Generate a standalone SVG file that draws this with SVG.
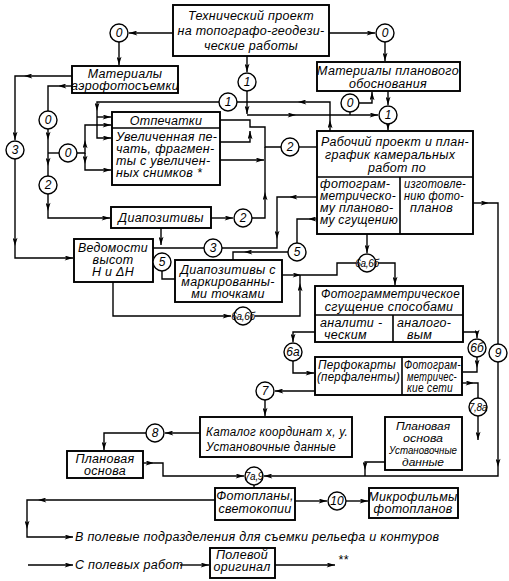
<svg xmlns="http://www.w3.org/2000/svg" width="509" height="581" viewBox="0 0 509 581">
<defs>
<marker id="ar" viewBox="0 0 10 6" refX="10" refY="3" markerWidth="10" markerHeight="5" markerUnits="userSpaceOnUse" orient="auto">
<path d="M0,0 L10,3 L0,6 L2.5,3 z" fill="#000"/>
</marker>
<style>
.b{fill:#fff;stroke:#000;stroke-width:1.9}
.c{fill:#fff;stroke:#000;stroke-width:1.4}
.l{fill:none;stroke:#000;stroke-width:1.4}
.a{marker-end:url(#ar)}
text{font-family:"Liberation Sans",Arial,sans-serif;font-style:italic;font-size:12.5px;fill:#000;letter-spacing:0.3px}
.m{text-anchor:middle}
.n{font-size:12px;letter-spacing:0}
.s{font-size:10px;letter-spacing:-0.3px}
.t{font-size:11.5px;letter-spacing:0}
</style>
</defs>
<rect width="509" height="581" fill="#fff"/>
<g id="connectors">
<path class="l a" d="M173,33 H129"/>
<path class="l a" d="M119,42 V65"/>
<path class="l a" d="M329,33 H375"/>
<path class="l a" d="M385,42 V61"/>
<path class="l a" d="M247,56 V72"/>
<path class="l a" d="M247,91 V114"/>
<path class="l a" d="M247,115 H296"/>
<path class="l a" d="M296,115 H378"/>
<path class="l" d="M350,112 V115"/>
<path class="l a" d="M359,103 H372 V92"/>
<path class="l a" d="M388,91 V105"/>
<path class="l a" d="M388,124 V130"/>
<path class="l a" d="M330,131 V120"/>
<path class="l a" d="M330,120 V102 H298"/>
<path class="l" d="M298,102 H237"/>
<path class="l a" d="M219,102 H97 V111"/>
<path class="l a" d="M97,111 V138 H111"/>
<path class="l a" d="M97,117 H111"/>
<path class="l" d="M48,153 H59"/>
<path class="l a" d="M77,153 H85 V140"/>
<path class="l a" d="M85,140 V125 H111"/>
<path class="l a" d="M85,153 V164"/>
<path class="l a" d="M85,164 V170 H111"/>
<path class="l a" d="M72,76 H24"/>
<path class="l a" d="M24,76 H15 V140"/>
<path class="l a" d="M15,159 V246"/>
<path class="l a" d="M15,246 V258 H73"/>
<path class="l a" d="M72,86 H58"/>
<path class="l" d="M58,86 H48 V111"/>
<path class="l a" d="M48,129 V140"/>
<path class="l a" d="M48,140 V166"/>
<path class="l" d="M48,166 V176"/>
<path class="l a" d="M48,194 V211"/>
<path class="l a" d="M48,211 V218 H110"/>
<path class="l" d="M220,120 H250 V127 H265 V147 H281"/>
<path class="l a" d="M220,142 H250 V131"/>
<path class="l a" d="M220,160 H264"/>
<path class="l" d="M299,147 H317"/>
<path class="l a" d="M211,218 H233"/>
<path class="l a" d="M252,218 H265 V192"/>
<path class="l" d="M265,192 V147"/>
<path class="l a" d="M161,228 V245"/>
<path class="l" d="M162,271 V279 H175"/>
<path class="l a" d="M317,197 H289"/>
<path class="l a" d="M289,197 H277 V239"/>
<path class="l" d="M277,239 V248 H222"/>
<path class="l" d="M204,248 H153"/>
<path class="l a" d="M317,219 H308"/>
<path class="l" d="M308,219 H297 V243"/>
<path class="l a" d="M288,252 H244"/>
<path class="l" d="M244,252 H233 V260"/>
<path class="l a" d="M367,234 V253"/>
<path class="l a" d="M282,275 H301"/>
<path class="l" d="M301,275 H337 V263 H356"/>
<path class="l a" d="M378,263 H395 V285"/>
<path class="l a" d="M113,282 V316 H231"/>
<path class="l a" d="M255,316 H300 V283"/>
<path class="l" d="M300,283 V275"/>
<path class="l a" d="M315,332 H293 V342"/>
<path class="l a" d="M293,361 V373 H314"/>
<path class="l a" d="M463,332 H477 V338"/>
<path class="l a" d="M477,357 V368"/>
<path class="l" d="M477,368 V372 H463"/>
<path class="l a" d="M462,383 H474"/>
<path class="l" d="M474,383 H478 V398"/>
<path class="l a" d="M478,416 V440"/>
<path class="l a" d="M385,462 H365 V470"/>
<path class="l" d="M365,470 V476"/>
<path class="l a" d="M473,203 H489"/>
<path class="l" d="M489,203 H498 V344"/>
<path class="l a" d="M498,362 V467"/>
<path class="l a" d="M498,467 V476 H264"/>
<path class="l a" d="M143,463 H154"/>
<path class="l a" d="M154,463 H163 V476 H244"/>
<path class="l" d="M254,485 V488"/>
<path class="l a" d="M315,391 H275"/>
<path class="l a" d="M265,400 V416"/>
<path class="l a" d="M200,433 H165"/>
<path class="l a" d="M146,433 H104 V450"/>
<path class="l a" d="M215,500 H38"/>
<path class="l a" d="M38,500 H27 V529"/>
<path class="l a" d="M27,529 V537 H73"/>
<path class="l a" d="M295,501 H327"/>
<path class="l a" d="M346,501 H368"/>
<path class="l a" d="M28,565 H73"/>
<path class="l a" d="M180,565 H209"/>
<path class="l a" d="M275,565 H335"/>
</g>
<g id="n-tech"><rect class="b" x="173" y="5" width="156" height="51"/>
<text class="m" x="251" y="20">Технический проект</text>
<text class="m" x="251" y="35">на топографо-геодези-</text>
<text class="m" x="251" y="50">ческие работы</text></g>
<g id="n-aero"><rect class="b" x="72" y="66" width="106" height="27"/>
<text class="m" x="125" y="78">Материалы</text>
<text class="m" x="125" y="90">аэрофотосъемки</text></g>
<g id="n-plan"><rect class="b" x="317" y="62" width="143" height="29"/>
<text class="m" x="388" y="75">Материалы планового</text>
<text class="m" x="388" y="88">обоснования</text></g>
<g id="n-otp"><rect class="b" x="112" y="112" width="108" height="73"/>
<path class="l" d="M112,128 H220" style="stroke-width:1.6"/>
<text class="m" x="166" y="125">Отпечатки</text>
<text x="116" y="141">Увеличенная пе-</text>
<text x="116" y="153">чать, фрагмен-</text>
<text x="116" y="165">ты с увеличен-</text>
<text x="116" y="177">ных снимков *</text></g>
<g id="n-rab"><rect class="b" x="317" y="131" width="156" height="103"/>
<path class="l" d="M317,177 H473 M400,177 V234" style="stroke-width:1.6"/>
<text x="321" y="146" textLength="148" lengthAdjust="spacingAndGlyphs">Рабочий проект и план-</text>
<text x="325" y="159">график камеральных</text>
<text x="368" y="172">работ по</text>
<text x="320" y="188">фотограм-</text>
<text x="320" y="200" textLength="76" lengthAdjust="spacingAndGlyphs">метрическо-</text>
<text x="320" y="212">му планово-</text>
<text x="320" y="224" textLength="78" lengthAdjust="spacingAndGlyphs">му сгущению</text>
<text x="404" y="188" textLength="62" lengthAdjust="spacingAndGlyphs">изготовле-</text>
<text x="404" y="200" textLength="60" lengthAdjust="spacingAndGlyphs">нию фото-</text>
<text x="410" y="212">планов</text></g>
<g id="n-diap"><rect class="b" x="111" y="207" width="100" height="21"/>
<text class="m" x="161" y="222">Диапозитивы</text></g>
<g id="n-ved"><rect class="b" x="74" y="239" width="79" height="43"/>
<text class="m" x="113" y="252" textLength="70" lengthAdjust="spacingAndGlyphs">Ведомости</text>
<text class="m" x="113" y="264">высот</text>
<text class="m" x="113" y="276">H и ΔH</text></g>
<g id="n-diapm"><rect class="b" x="175" y="260" width="107" height="42"/>
<text class="m" x="228" y="274">Диапозитивы с</text>
<text class="m" x="228" y="286">маркированны-</text>
<text class="m" x="228" y="298">ми точками</text></g>
<g id="n-fsg"><rect class="b" x="315" y="286" width="148" height="56"/>
<path class="l" d="M315,315 H463 M393,315 V342" style="stroke-width:1.6"/>
<text x="321" y="298" textLength="139" lengthAdjust="spacingAndGlyphs">Фотограмметрическое</text>
<text class="m" x="389" y="311">сгущение способами</text>
<text x="320" y="327">аналити -</text>
<text x="324" y="339">ческим</text>
<text x="397" y="327">аналого-</text>
<text x="407" y="339">вым</text></g>
<g id="n-perf"><rect class="b" x="315" y="357" width="147" height="38"/>
<path class="l" d="M402,357 V395" style="stroke-width:1.6"/>
<text x="318" y="369" textLength="78" lengthAdjust="spacingAndGlyphs">Перфокарты</text>
<text x="317" y="381" textLength="83" lengthAdjust="spacingAndGlyphs">(перфаленты)</text>
<text x="404" y="369" textLength="57" lengthAdjust="spacingAndGlyphs">Фотограм-</text>
<text x="407" y="381" textLength="50" lengthAdjust="spacingAndGlyphs">метричес-</text>
<text x="407" y="392" textLength="46" lengthAdjust="spacingAndGlyphs">кие сети</text></g>
<g id="n-cat"><rect class="b" x="200" y="417" width="152" height="40"/>
<text x="206" y="436" textLength="142" lengthAdjust="spacingAndGlyphs">Каталог координат x, y.</text>
<text x="206" y="451" textLength="130" lengthAdjust="spacingAndGlyphs">Установочные данные</text></g>
<g id="n-plano2"><rect class="b" x="385" y="417" width="77" height="53"/>
<text class="m t" x="423" y="430" textLength="54" lengthAdjust="spacingAndGlyphs">Плановая</text>
<text class="m t" x="423" y="442" textLength="40" lengthAdjust="spacingAndGlyphs">основа</text>
<text class="m t" x="423" y="454" textLength="68" lengthAdjust="spacingAndGlyphs">Установочные</text>
<text class="m t" x="423" y="466" textLength="42" lengthAdjust="spacingAndGlyphs">данные</text></g>
<g id="n-plano1"><rect class="b" x="67" y="451" width="76" height="27"/>
<text class="m" x="105" y="463">Плановая</text>
<text class="m" x="105" y="475">основа</text></g>
<g id="n-foto"><rect class="b" x="215" y="488" width="80" height="32"/>
<text class="m" x="255" y="500">Фотопланы,</text>
<text class="m" x="255" y="513">светокопии</text></g>
<g id="n-micro"><rect class="b" x="369" y="488" width="89" height="30"/>
<text class="m" x="413" y="501">Микрофильмы</text>
<text class="m" x="413" y="513">фотопланов</text></g>
<g id="n-pole"><rect class="b" x="210" y="548" width="65" height="30"/>
<text class="m" x="242" y="559">Полевой</text>
<text class="m" x="242" y="571">оригинал</text></g>
<g id="circles">
<g id="c-0a"><circle class="c" cx="119" cy="33" r="9"/><text class="m n" x="119" y="37">0</text></g>
<g id="c-0b"><circle class="c" cx="385" cy="33" r="9"/><text class="m n" x="385" y="37">0</text></g>
<g id="c-1a"><circle class="c" cx="247" cy="82" r="9"/><text class="m n" x="247" y="86">1</text></g>
<g id="c-1b"><circle class="c" cx="228" cy="102" r="9"/><text class="m n" x="228" y="106">1</text></g>
<g id="c-0c"><circle class="c" cx="350" cy="103" r="9"/><text class="m n" x="350" y="107">0</text></g>
<g id="c-1c"><circle class="c" cx="388" cy="115" r="9"/><text class="m n" x="388" y="119">1</text></g>
<g id="c-0e"><circle class="c" cx="48" cy="120" r="9"/><text class="m n" x="48" y="124">0</text></g>
<g id="c-3a"><circle class="c" cx="15" cy="150" r="9"/><text class="m n" x="15" y="154">3</text></g>
<g id="c-0d"><circle class="c" cx="68" cy="153" r="9"/><text class="m n" x="68" y="157">0</text></g>
<g id="c-2c"><circle class="c" cx="48" cy="185" r="9"/><text class="m n" x="48" y="189">2</text></g>
<g id="c-2a"><circle class="c" cx="290" cy="147" r="9"/><text class="m n" x="290" y="151">2</text></g>
<g id="c-2b"><circle class="c" cx="243" cy="218" r="9"/><text class="m n" x="243" y="222">2</text></g>
<g id="c-3b"><circle class="c" cx="213" cy="248" r="9"/><text class="m n" x="213" y="252">3</text></g>
<g id="c-5a"><circle class="c" cx="162" cy="262" r="9"/><text class="m n" x="162" y="266">5</text></g>
<g id="c-5b"><circle class="c" cx="297" cy="252" r="9"/><text class="m n" x="297" y="256">5</text></g>
<g id="c-6ab1"><circle class="c" cx="367" cy="263" r="9"/><text class="m s" x="367" y="267">6а,6б</text></g>
<g id="c-6ab2"><circle class="c" cx="243" cy="316" r="9"/><text class="m s" x="243" y="320">6а,6б</text></g>
<g id="c-6a"><circle class="c" cx="293" cy="352" r="9"/><text class="m n" x="293" y="356">6а</text></g>
<g id="c-6b"><circle class="c" cx="477" cy="348" r="9"/><text class="m n" x="477" y="352">6б</text></g>
<g id="c-9"><circle class="c" cx="498" cy="353" r="9"/><text class="m n" x="498" y="357">9</text></g>
<g id="c-7"><circle class="c" cx="265" cy="391" r="9"/><text class="m n" x="265" y="395">7</text></g>
<g id="c-78a"><circle class="c" cx="478" cy="407" r="9"/><text class="m s" x="478" y="411">7,8а</text></g>
<g id="c-8"><circle class="c" cx="155" cy="433" r="9"/><text class="m n" x="155" y="437">8</text></g>
<g id="c-7a9"><circle class="c" cx="254" cy="476" r="9"/><text class="m s" x="254" y="480">7а,9</text></g>
<g id="c-10"><circle class="c" cx="337" cy="501" r="9"/><text class="m n" x="337" y="505">10</text></g>
</g>
<g id="labels">
<text x="75" y="541">В полевые подразделения для съемки рельефа и контуров</text>
<text x="75" y="569">С полевых работ</text>
<text x="338" y="564">**</text>
</g>
</svg>
